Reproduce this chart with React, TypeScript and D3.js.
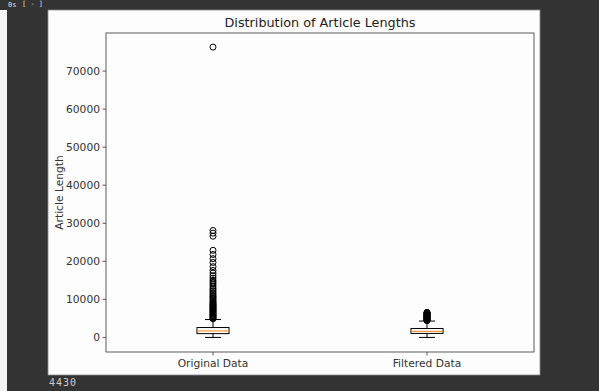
import React from 'react';
import * as d3 from 'd3';

const categories = ['Original Data', 'Filtered Data'];
// box stats: [low whisker, q1, median, q3, high whisker]
const originalStats = [0, 1000, 1700, 2600, 4700];
const filteredStats = [0, 1050, 1600, 2350, 4300];
const originalOutliers = [76300, 28100, 27400, 26600, 22900, 21800, 20700, 19700, 18600, 17600, 16900, 16200,
  15600, 15000, 14500, 14000, 13500, 13000, 12600, 12200, 11800, 11400, 11000, 10700, 10400, 10100, 9800,
  9500, 9200, 9000, 8700, 8500, 8300, 8100, 7900, 7700, 7500, 7300, 7100, 6900, 6700, 6500, 6300, 6100,
  5900, 5700, 5500, 5300, 5100, 4900];
const filteredOutliers = [6600, 6500, 6400, 6300, 6200, 6100, 6000, 5900, 5800, 5700, 5600, 5500, 5400,
  5300, 5200, 5100, 5000, 4900, 4800, 4700, 4600, 4500, 4400];
const yTicks = [0, 10000, 20000, 30000, 40000, 50000, 60000, 70000];

const font = 'DejaVu Sans, sans-serif';

function App() {
  const left = 106, right = 534, top = 33, bottom = 352;
  const x = d3.scaleLinear().domain([0.5, 2.5]).range([left, right]);
  const y = d3.scaleLinear().domain([-3830, 80000]).range([bottom, top]);
  const boxW = x(1.15) - x(1);
  const capW = boxW / 2;

  const series = [
    { stats: originalStats, outliers: originalOutliers },
    { stats: filteredStats, outliers: filteredOutliers },
  ];

  return (
    <svg width={599} height={391} style={{ position: 'absolute', left: 0, top: 0 }}>
      <rect x={0} y={0} width={599} height={391} fill="#333333" />
      <rect x={0} y={10} width={7} height={381} fill="#f4f4f4" />
      <text x={8} y={7} fontSize={7} fill="#dddddd" fontFamily="DejaVu Sans Mono, monospace">0s</text>
      <text x={22} y={6} fontSize={7} fill="#dddddd" fontFamily="DejaVu Sans Mono, monospace">[ - ]</text>
      <rect x={48} y={10} width={492} height={365} fill="#fdfdfd" stroke="#888" strokeWidth={0.8} />
      <text x={49} y={386} fontSize={10} fill="#cccccc" fontFamily="DejaVu Sans Mono, monospace" letterSpacing={1}>4430</text>

      <text x={(left + right) / 2} y={27} textAnchor="middle" fontSize={12.8} fontFamily={font} fill="#222">
        Distribution of Article Lengths
      </text>

      {yTicks.map(t => (
        <g key={t}>
          <line x1={left - 3.5} x2={left} y1={y(t)} y2={y(t)} stroke="#333" strokeWidth={0.8} />
          <text x={left - 6} y={y(t)} dy="0.35em" textAnchor="end" fontSize={10.7} fontFamily={font} fill="#333">{t}</text>
        </g>
      ))}
      <text transform={`translate(63,${(top + bottom) / 2}) rotate(-90)`} textAnchor="middle" fontSize={10.7} fontFamily={font} fill="#333">
        Article Length
      </text>

      {categories.map((c, i) => (
        <g key={c}>
          <line x1={x(i + 1)} x2={x(i + 1)} y1={bottom} y2={bottom + 3.5} stroke="#333" strokeWidth={0.8} />
          <text x={x(i + 1)} y={bottom + 15} textAnchor="middle" fontSize={10.7} fontFamily={font} fill="#333">{c}</text>
        </g>
      ))}

      {series.map((s, i) => {
        const cx = x(i + 1);
        const [lo, q1, med, q3, hi] = s.stats;
        return (
          <g key={i}>
            <line x1={cx} x2={cx} y1={y(q1)} y2={y(lo)} stroke="#000" strokeWidth={1} />
            <line x1={cx} x2={cx} y1={y(q3)} y2={y(hi)} stroke="#000" strokeWidth={1} />
            <line x1={cx - capW / 2} x2={cx + capW / 2} y1={y(lo)} y2={y(lo)} stroke="#000" strokeWidth={1} />
            <line x1={cx - capW / 2} x2={cx + capW / 2} y1={y(hi)} y2={y(hi)} stroke="#000" strokeWidth={1} />
            <rect x={cx - boxW / 2} y={y(q3)} width={boxW} height={y(q1) - y(q3)} fill="none" stroke="#000" strokeWidth={1} />
            <line x1={cx - boxW / 2} x2={cx + boxW / 2} y1={y(med)} y2={y(med)} stroke="#ff7f0e" strokeWidth={1} />
            {s.outliers.map((o, j) => (
              <circle key={j} cx={cx} cy={y(o)} r={3} fill="none" stroke="#000" strokeWidth={1} />
            ))}
          </g>
        );
      })}

      <rect x={left} y={top} width={right - left} height={bottom - top} fill="none" stroke="#333" strokeWidth={0.8} />
    </svg>
  );
}

export default App;
